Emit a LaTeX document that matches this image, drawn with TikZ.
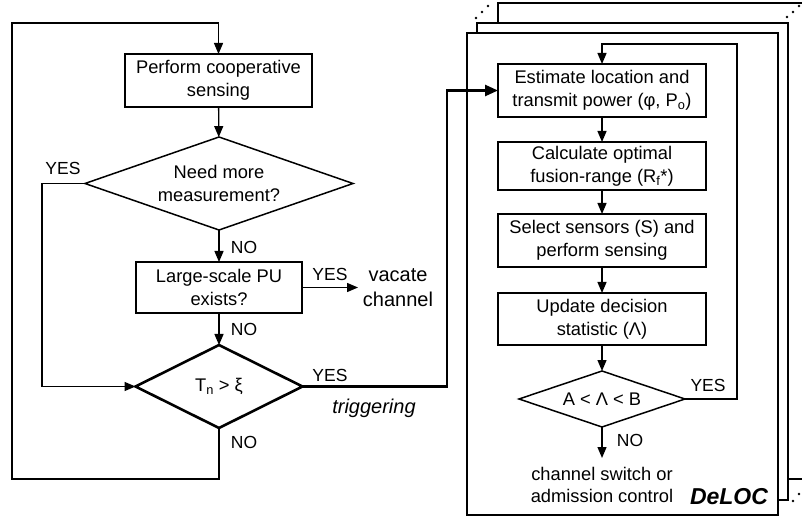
\documentclass[tikz,border=0pt]{standalone}
\usepackage{fontspec}
\setmainfont{Liberation Sans}
\usetikzlibrary{arrows.meta,shapes.geometric}

\tikzset{
  box/.style={draw, rectangle, line width=1.5pt, align=center, inner sep=0pt, outer sep=0pt},
  decision/.style={draw, diamond, line width=1.5pt, align=center, inner sep=0pt, outer sep=0pt},
  frame/.style={draw, line width=1.5pt, fill=white},
  tag/.style={font=\fontsize{17.5}{21}\selectfont, inner sep=0pt},
  note/.style={font=\fontsize{20}{25}\selectfont, align=center, inner sep=0pt},
}

\begin{document}
\begin{tikzpicture}[x=1pt, y=-1pt, line width=1.3pt, >={Triangle[length=11pt,width=9pt]},
  font=\fontsize{18.3}{22.8}\selectfont]
  \useasboundingbox (0,0) rectangle (802,518);
  \clip (0,0) rectangle (802,518);

  % stacked DeLOC frames
  \draw[frame] (498,3) rectangle (830,479);
  \draw[frame] (477,23) rectangle (788,500);
  \draw[frame] (467,33) rectangle (778,515);
  \foreach \p in {(476,18),(482,12),(488,6),(787,17),(793,12),(799,6),(793,501),(799,494)}
    \fill \p circle (1.3pt);

  % left flow
  \node[box, minimum width=187pt, minimum height=53pt] (sense) at (218.5,80.5) {Perform cooperative\\sensing};
  \node[decision, shape aspect=2.88, minimum width=268pt, minimum height=93pt] (need) at (219,183.5) {Need more\\measurement?};
  \node[box, minimum width=166pt, minimum height=51pt] (pu) at (219,287.5) {Large-scale PU\\exists?};
  \node[decision, shape aspect=2, line width=2.6pt, minimum width=167pt, minimum height=83pt] (thr) at (219,386.5) {T\textsubscript{n} > ξ};
  \node[note] (vacate) at (398,287.5) {vacate\\channel};

  \node[tag] (yesA) at (63,168) {YES};
  \node[tag] (noA) at (244,247) {NO};
  \node[tag] (yesB) at (330,274) {YES};
  \node[tag] (noB) at (244,329) {NO};
  \node[tag] (yesC) at (330,375) {YES};
  \node[tag] (noC) at (244,442) {NO};
  \node[note, font=\fontsize{20}{25}\selectfont\itshape] (trig) at (374,408) {triggering};

  \draw[->] (sense) -- (need);
  \draw[->] (need) -- (pu);
  \draw[->] (pu) -- (thr);
  \draw[->] (pu.east) -- (358,287.5);
  \draw[->] (need.west) -| (42,386.5) -- (thr.west);
  \draw[->] (thr.south) -- (219,479) -| (12,23) -| (sense.north);

  % right flow
  \node[box, minimum width=208pt, minimum height=53pt] (est) at (602,90.5) {Estimate location and\\transmit power (φ, P\textsubscript{o})};
  \node[box, minimum width=208pt, minimum height=48pt] (calc) at (602,166) {Calculate optimal\\fusion-range (R\textsubscript{f}*)};
  \node[box, minimum width=208pt, minimum height=53pt] (select) at (602,240.5) {Select sensors (S) and\\perform sensing};
  \node[box, minimum width=208pt, minimum height=52pt] (update) at (602,319) {Update decision\\statistic (Λ)};
  \node[decision, shape aspect=2.96, minimum width=166pt, minimum height=56pt] (range) at (602,399) {A < Λ < B};
  \coordinate (stop) at (602,458);
  \node[align=center, inner sep=0pt] (switch) at (602,485) {channel switch or\\admission control};
  \node[inner sep=0pt, font=\fontsize{23}{27}\selectfont\bfseries\itshape] (deloc) at (729,497) {DeLOC};

  \node[tag] (yesD) at (708,385) {YES};
  \node[tag] (noD) at (630,440) {NO};

  \draw[->] (est) -- (calc);
  \draw[->] (calc) -- (select);
  \draw[->] (select) -- (update);
  \draw[->] (update) -- (range);
  \draw[->] (range) -- (stop);
  \draw[->] (range.east) -| (737,44) -| (est.north);

  \draw[-{Triangle[length=13pt,width=11pt]}, line width=2.6pt] (thr.east) -- (447,386.5) |- (est.west);
\end{tikzpicture}
\end{document}
